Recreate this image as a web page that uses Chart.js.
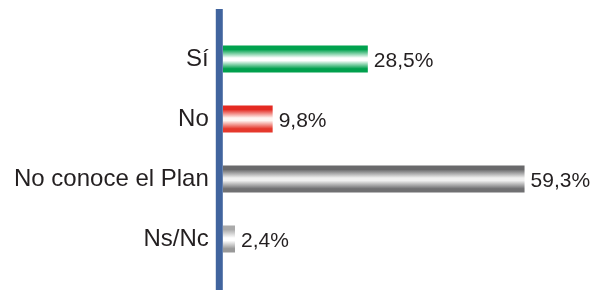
<!DOCTYPE html>
<html>
<head>
<meta charset="utf-8">
<script src="https://cdn.jsdelivr.net/npm/chart.js@4"></script>
<style>
    html, body { margin: 0; padding: 0; background: #fff; }
    #wrap { width: 594px; height: 290px; }
</style>
</head>
<body>
<div id="wrap"><canvas id="planChart"></canvas></div>
<script>
const categories = ['Sí', 'No', 'No conoce el Plan', 'Ns/Nc'];
const values = [28.5, 9.8, 59.3, 2.4];
const valueLabels = ['28,5%', '9,8%', '59,3%', '2,4%'];

// top, middle, bottom colour of each bar's vertical gradient
const barShades = [
    ['#00a24e', '#ffffff', '#00a04d'],
    ['#e42a22', '#fff6f2', '#e5382c'],
    ['#69696b', '#f0f0f0', '#707072'],
    ['#aaaaaa', '#ffffff', '#999999']
];

const FONT = '"Liberation Sans", Arial, sans-serif';
const BAR_PCT = 0.45;

function barGradient(context) {
    const chart = context.chart;
    const s = barShades[context.dataIndex];
    const area = chart.chartArea;
    const yScale = chart.scales.y;
    if (!area || !yScale) return s[0];
    const cy = yScale.getPixelForValue(context.dataIndex);
    const half = (area.bottom - area.top) / categories.length * BAR_PCT / 2;
    if (!isFinite(cy) || !isFinite(half)) return s[0];
    const g = chart.ctx.createLinearGradient(0, cy - half, 0, cy + half);
    g.addColorStop(0, s[0]);
    g.addColorStop(0.15, s[0]);
    g.addColorStop(0.46, s[1]);
    g.addColorStop(0.56, s[1]);
    g.addColorStop(0.86, s[2]);
    g.addColorStop(1, s[2]);
    return g;
}

const axisLine = {
    id: 'axisLine',
    afterDatasetsDraw(chart) {
        const { ctx, chartArea } = chart;
        ctx.save();
        ctx.fillStyle = '#41649e';
        ctx.fillRect(chartArea.left - 7, 9, 7, chart.height - 9);
        ctx.restore();
    }
};

const valueText = {
    id: 'valueText',
    afterDatasetsDraw(chart) {
        const { ctx } = chart;
        const meta = chart.getDatasetMeta(0);
        ctx.save();
        ctx.font = '21px ' + FONT;
        ctx.fillStyle = '#231f20';
        ctx.textBaseline = 'middle';
        meta.data.forEach((bar, i) => {
            ctx.fillText(valueLabels[i], bar.x + 6, bar.y + 2);
        });
        ctx.restore();
    }
};

new Chart(document.getElementById('planChart'), {
    type: 'bar',
    data: {
        labels: categories,
        datasets: [{
            data: values,
            backgroundColor: barGradient,
            borderWidth: 0,
            barPercentage: BAR_PCT,
            categoryPercentage: 1
        }]
    },
    options: {
        indexAxis: 'y',
        responsive: true,
        maintainAspectRatio: false,
        animation: false,
        layout: { padding: { top: 29, bottom: 21, left: 0, right: 15 } },
        plugins: {
            legend: { display: false },
            tooltip: { enabled: false }
        },
        scales: {
            x: { display: false, min: 0, max: 70 },
            y: {
                grid: { display: false, drawTicks: false },
                border: { display: false },
                ticks: {
                    color: '#231f20',
                    padding: 14,
                    font: { family: FONT, size: 24, lineHeight: 0.5 }
                }
            }
        }
    },
    plugins: [axisLine, valueText]
});
</script>
</body>
</html>
